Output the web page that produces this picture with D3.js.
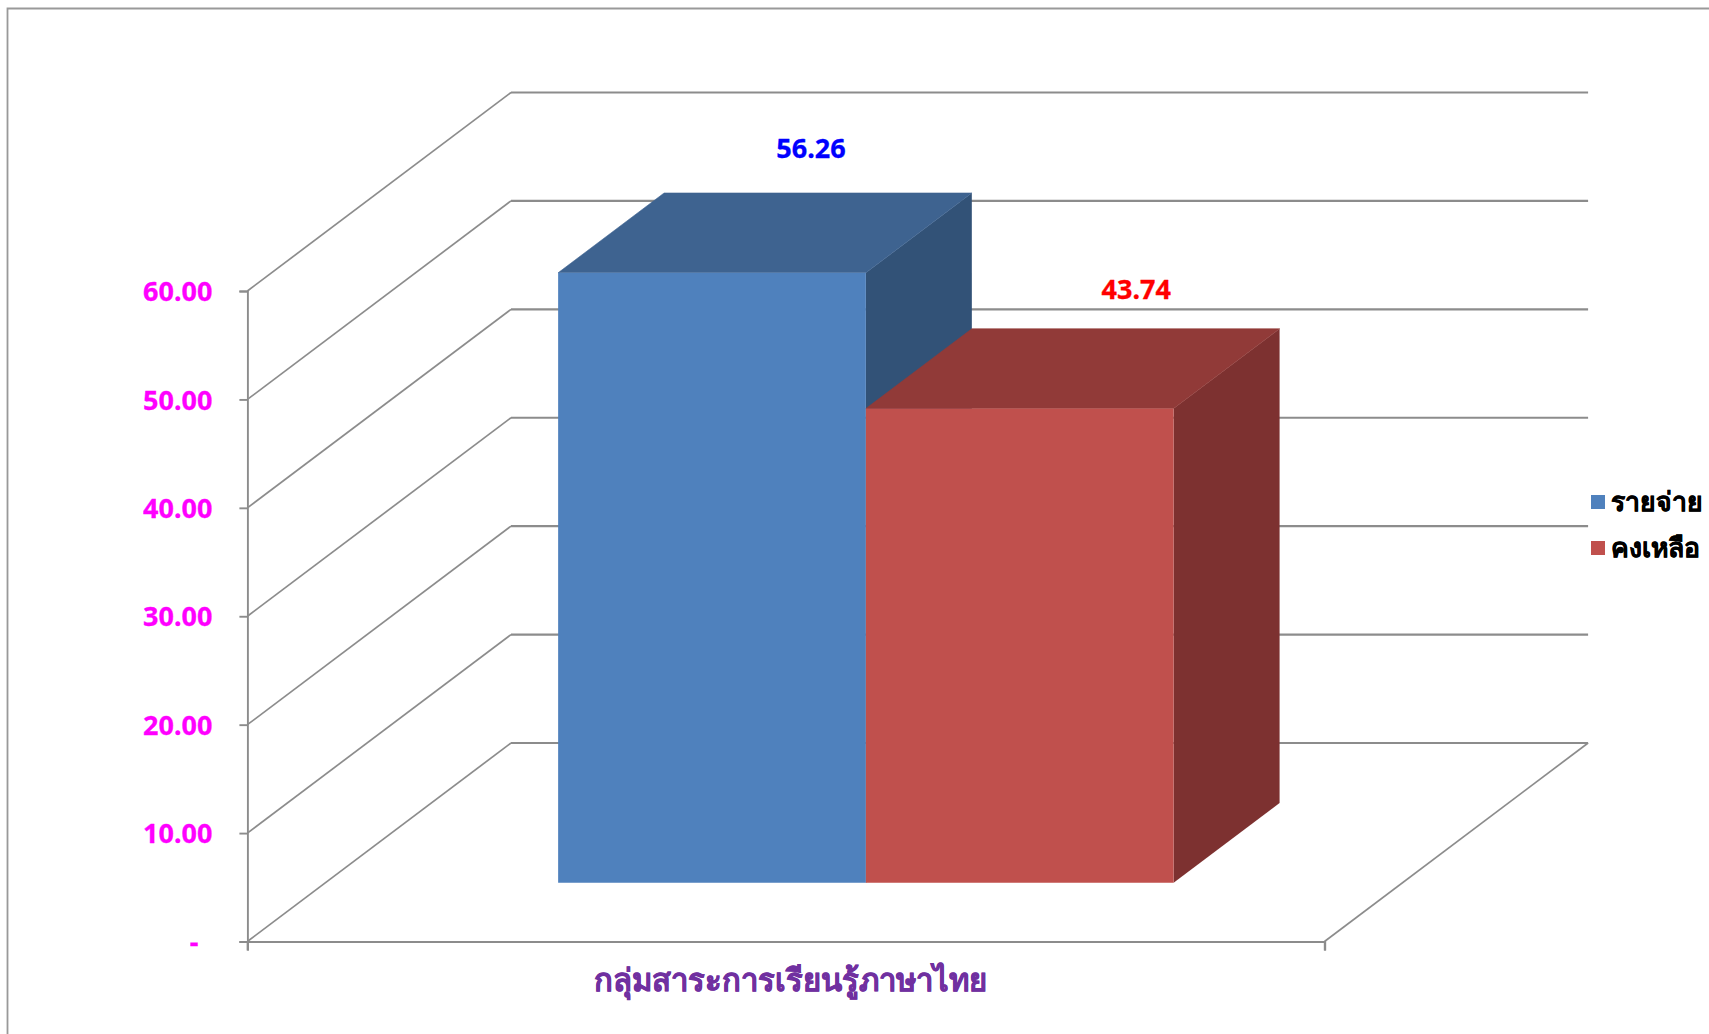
<!DOCTYPE html>
<html><head><meta charset="utf-8">
<script src="https://cdn.jsdelivr.net/npm/d3@7/dist/d3.min.js"></script>
<style>html,body{margin:0;background:#fff;overflow:hidden}svg{display:block}text{font-family:"Noto Sans","Open Sans",sans-serif;font-weight:700}</style>
</head><body><svg id="c" width="1709" height="1034"></svg>
<script>
const categories = ["กลุ่มสาระการเรียนรู้ภาษาไทย"];
const seriesNames = ["รายจ่าย", "คงเหลือ"];
const seriesValues = [56.26, 43.74];
const valueLabels = ["56.26", "43.74"];
const yTicks = [0, 10, 20, 30, 40, 50, 60];
const frontColors = ["#4F81BD", "#C0504D"];
const topColors = ["#3E6390", "#913A38"];
const sideColors = ["#325277", "#7D3130"];
const labelColors = ["#0000FF", "#FF0000"];

const svg = d3.select("#c");
const GRID = "#8c8c8c";
const X0 = 247.4, X1 = 1324.5, Y0 = 941.5, Y60 = 291;
const DX = 263.6, DY = 198.5;                // full depth of the floor
const BAR_SHIFT = 1.9;
const y = d3.scaleLinear().domain([0, 60]).range([Y0, Y60]);
const xPlane = d3.scaleBand().domain(seriesNames).range([X0, X1]).paddingInner(0).paddingOuter(0.75);
const F0 = 0.296, F1 = 0.698;  // bar front and back in the depth

// project: plane x, value, depth fraction
const px = (x, f) => x + DX * f;
const py = (v, f) => y(v) - DY * f;
const line = d3.line();

// frame
svg.append("path").attr("d", "M7.5 1034V8.5H1709").attr("fill", "none").attr("stroke", "#999").attr("stroke-width", 1.8);

// walls and gridlines
const grid = svg.append("g").attr("fill", "none").attr("stroke", GRID);
yTicks.forEach(t => {
  grid.append("path").attr("stroke-width", 1.7)
    .attr("d", line([[px(X0, 0), py(t, 0)], [px(X0, 1), py(t, 1)]]));
  grid.append("path").attr("stroke-width", 2.2)
    .attr("d", line([[px(X0, 1), py(t, 1)], [px(X1, 1), py(t, 1)]]));
});
grid.append("path").attr("stroke-width", 1.7)
  .attr("d", line([[px(X1, 1), py(0, 1)], [px(X1, 0), py(0, 0)]]));

// axes
const fmt = d => d === 0 ? "-" : d3.format(".2f")(d);
const yAxis = svg.append("g").attr("transform", `translate(${X0},0)`)
  .call(d3.axisLeft(y).tickValues(yTicks).tickFormat(fmt).tickSize(8).tickPadding(27));
yAxis.selectAll("path,line").attr("stroke", GRID).attr("stroke-width", 1.9);
yAxis.selectAll("text").attr("fill", "#FF00FF").attr("font-size", 27).attr("dy", "0.36em")
  .attr("stroke", "#FF00FF").attr("stroke-width", 0.3).attr("font-family", null);
yAxis.selectAll(".tick").filter(d => d === 0).select("text").attr("x", -49);

const xEdge = d3.scaleLinear().domain([0, 1]).range([X0, X1]);
const xAxis = svg.append("g").attr("transform", `translate(0,${Y0})`)
  .call(d3.axisBottom(xEdge).tickValues([0, 1]).tickFormat("").tickSize(9));
xAxis.selectAll("path,line").attr("stroke", GRID).attr("stroke-width", 2.2);

// bars (back to front, left to right)
const bars = svg.append("g");
seriesNames.forEach((s, i) => {
  const a = xPlane(s) + BAR_SHIFT, b = a + xPlane.bandwidth(), v = seriesValues[i];
  // side
  bars.append("path").attr("fill", sideColors[i]).attr("d", line([
    [px(b, F0), py(v, F0)], [px(b, F1), py(v, F1)], [px(b, F1), py(0, F1)], [px(b, F0), py(0, F0)]]) + "Z");
  // top
  bars.append("path").attr("fill", topColors[i]).attr("stroke", topColors[i]).attr("stroke-width", 0.6).attr("d", line([
    [px(a, F0), py(v, F0)], [px(a, F1), py(v, F1)], [px(b, F1), py(v, F1)], [px(b, F0), py(v, F0)]]) + "Z");
  // front
  bars.append("path").attr("fill", frontColors[i]).attr("d", line([
    [px(a, F0), py(v, F0)], [px(b, F0), py(v, F0)], [px(b, F0), py(0, F0)], [px(a, F0), py(0, F0)]]) + "Z");
});

// data labels
const labelShift = [[99, -114.5], [116.5, -109.5]];
seriesNames.forEach((s, i) => {
  svg.append("text").attr("text-anchor", "middle").attr("font-size", 27).attr("fill", labelColors[i])
    .attr("stroke", labelColors[i]).attr("stroke-width", 0.3)
    .attr("x", px(xPlane(s) + BAR_SHIFT + xPlane.bandwidth() / 2, F0) + labelShift[i][0])
    .attr("y", py(seriesValues[i], F0) + labelShift[i][1])
    .text(valueLabels[i]);
});

// category label
svg.append("text").attr("text-anchor", "middle").attr("font-size", 31).attr("fill", "#7030A0")
  .attr("stroke", "#7030A0").attr("stroke-width", 0.4)
  .attr("x", 790).attr("y", 991).text(categories[0]);

// legend
const legendY = d3.scalePoint().domain(seriesNames).range([502, 548]);
const leg = svg.append("g");
seriesNames.forEach((s, i) => {
  leg.append("rect").attr("x", 1591).attr("y", legendY(s) - 7).attr("width", 14).attr("height", 14).attr("fill", frontColors[i]);
  leg.append("text").attr("x", 1610.5).attr("y", legendY(s) + 8.5).attr("font-size", 26.5).attr("fill", "#000")
    .attr("stroke", "#000").attr("stroke-width", 0.4).text(s);
});
</script></body></html>
